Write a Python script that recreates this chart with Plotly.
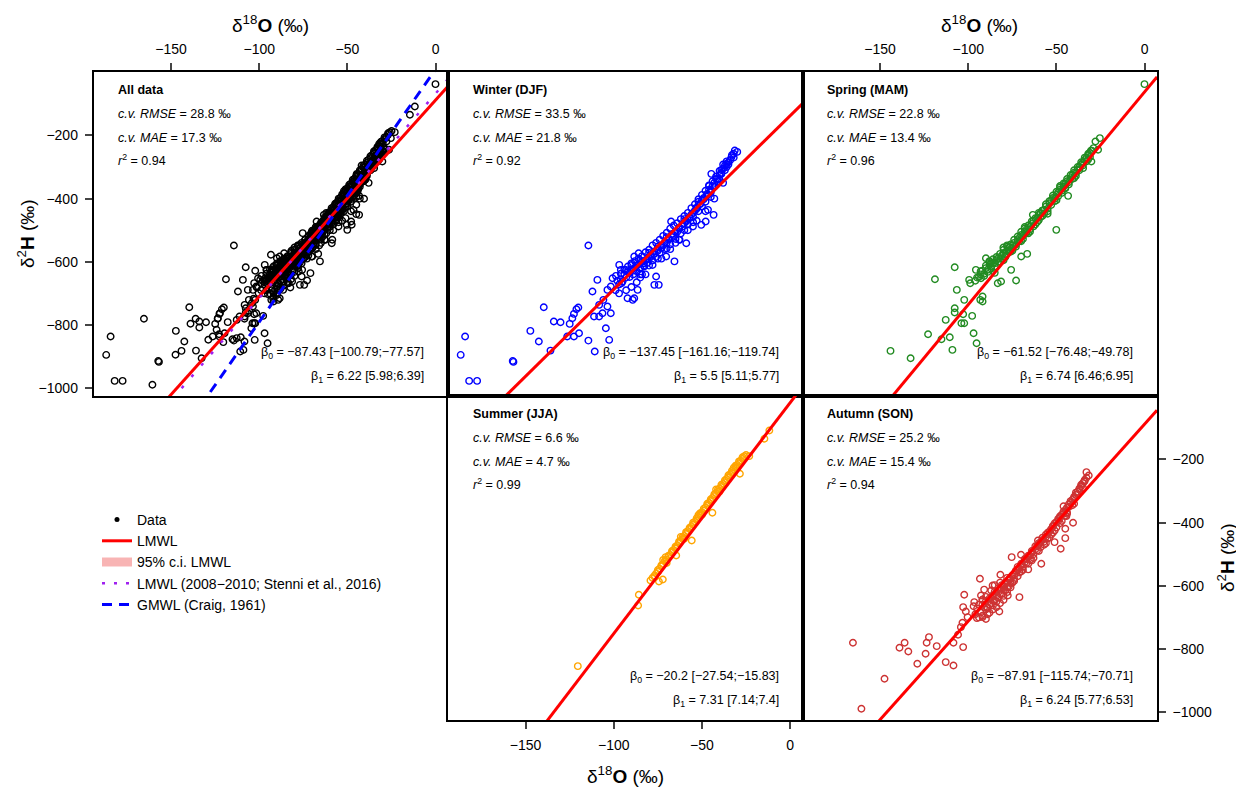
import plotly.graph_objects as go
import numpy as np

# ---------------- data ----------------
winter_d18O = [-184.3,-186.8,-182.0,-177.5,-157.3,-156.9,-147.3,-142.5,-139.7,-135.9,-134.0,-130.2,-126.4,-125.0,-122.6,-123.5,-122.6,-121.2,-120.1,-119.7,-114.4,-114.4,-112.1,-110.8,-111.2,-108.3,-109.3,-108.3,-106.4,-104.5,-102.6,-101.7,-103.6,-105.9,-103.6,-101.7,-100.7,-98.8,-96.9,-96.0,-95.6,-93.1,-92.2,-89.3,-88.4,-86.5,-88.4,-85.9,-82.7,-77.0,-74.5,-76.0,-70.3,-65.6,-67.5,-62.7,-58.9,-55.1,-50.4,-47.9,-46.6,-43.4,-44.7,-33.3,-32.0,-31.4,-36.2,-39.0,
               -96,-94,-92,-91,-90,-89,-88,-87,-86,-85,-84,-83,-82,-81,-80,-79,-78,-77,-76,-75,-74,-73,-72,-71,-70,-69,-68,-67,-66,-65,-64,-63,-62,-61,-60,-59,-58,-57,-56,-55,-54,-53,-52,-51,-50,-49,-48,-47,-46,-45,-44,-43,-42,-41,-40,-39,-38,-37,-36,-35,-34,
               -85,-80,-75,-70,-65,-60,-55,-50,-45,-40,-90,-85,-80,-75,-70,-60,-52,-46,
               -99,-98,-97,-96,-95,-94,-93,-92,-91,-90,-89,-88,-87,-86,-85,-84,-83,-82,-81,-80,-79,-78,-77,-76,-75,-74,-73,-72,-71,-70,-69,-68,-67,-66,-65,-64,-63,-62,-61,-60,-59,-58,-57,-56,-55,-54,-53,-52,-51,-50,-49,-48,-47,-46,-45,-44,-43,-42,-41,-40,-39,-38,-37,-36,-35,-33,-32,-30,
               -84,-78,-73,-68,-63,-58,-53,-48,-43,-38,-97,-93,-90,-87,-85,-82]
winter_d2H = [-836.8,-894.9,-977.2,-977.2,-913.9,-917.0,-818.8,-852.6,-743.9,-881.2,-789.3,-791.4,-836.8,-796.7,-836.8,-778.7,-765.0,-750.2,-744.9,-826.2,-548.5,-849.5,-694.2,-884.3,-773.4,-773.4,-657.3,-736.5,-762.9,-810.4,-847.4,-762.9,-741.8,-720.6,-689.0,-678.4,-652.0,-644.6,-609.8,-625.6,-667.8,-625.6,-715.4,-720.6,-715.4,-689.0,-583.4,-572.8,-615.0,-673.1,-673.1,-646.7,-583.4,-598.8,-472.5,-530.6,-541.1,-488.3,-483.0,-472.5,-435.5,-451.4,-321.5,-268.7,-258.1,-247.6,-289.8,-308.8,
              -655,-640,-632,-648,-625,-640,-618,-630,-608,-622,-600,-612,-595,-604,-590,-582,-596,-575,-585,-565,-572,-556,-548,-560,-540,-530,-545,-522,-515,-528,-505,-495,-510,-488,-478,-470,-482,-462,-450,-458,-438,-428,-440,-418,-405,-398,-410,-385,-372,-380,-360,-350,-338,-345,-325,-318,-305,-295,-300,-285,-278,
              -640,-612,-590,-558,-540,-500,-475,-425,-395,-340,-610,-595,-572,-552,-522,-465,-410,-360,
              -690,-660,-672,-638,-662,-625,-650,-615,-635,-605,-628,-598,-612,-590,-618,-582,-605,-570,-592,-562,-578,-548,-568,-540,-560,-530,-548,-518,-538,-508,-526,-495,-512,-485,-505,-478,-492,-465,-480,-455,-472,-445,-458,-430,-445,-418,-432,-402,-415,-388,-402,-375,-390,-358,-372,-345,-362,-330,-338,-312,-322,-292,-310,-282,-292,-262,-270,-252,
              -640,-610,-590,-560,-530,-500,-470,-440,-400,-350,-700,-690,-680,-665,-650,-640]

spring_d18O = [-0.1,-144.1,-132.7,-122.8,-118.9,-115.2,-112.8,-110.5,-109.0,-107.7,-107.7,-107.7,-106.5,-103.9,-102.3,-102.9,-102.3,-97.8,-97.0,-95.3,-99.5,-98.9,-95.7,-93.2,-91.9,-91.9,-92.8,-90.0,-87.1,-83.3,-81.4,-72.9,-80.1,-75.7,-70.0,-66.6,-63.4,-50.1,-43.4,-34.9,-32.1,-30.5,-27.9,-25.4,-26.4,-30.2,
               -95,-93,-92,-91,-90,-89,-88,-87,-86,-85,-84,-83,-82,-81,-80,-79,-78,-77,-76,-75,-74,-73,-72,-71,-70,-69,-68,-67,-66,-65,-64,-63,-62,-61,-60,-59,-58,-57,-56,-55,-54,-53,-52,-51,-50,-49,-48,-47,-46,-45,-44,-43,-42,-41,-40,-39,-38,-37,-36,-35,-34,-33,-32,-31,
               -85,-80,-75,-70,-65,-60,-55,-50,-45,-40,-88,-78,-68,-58,-48,
               -96,-94,-93,-91,-90,-89,-88,-87,-86,-85,-84,-83,-82,-81,-80,-79,-78,-77,-76,-75,-74,-73,-72,-71,-70,-69,-68,-67,-66,-65,-64,-63,-62,-61,-60,-59,-58,-57,-56,-55,-54,-53,-52,-51,-50,-49,-48,-47,-46,-45,-44,-43,-42,-41,-40,-39,-38,-37,-36,-35,-34,-33,-32,-31,-30,-29]
spring_d2H = [-37.4,-882.2,-905.4,-829.4,-655.2,-845.2,-784.0,-838.9,-879.0,-617.1,-747.0,-760.7,-689.0,-794.6,-794.6,-766.1,-720.6,-771.3,-826.2,-857.9,-657.3,-667.8,-625.6,-720.6,-710.1,-725.9,-652.0,-588.6,-604.5,-667.8,-662.5,-659.4,-554.8,-625.6,-583.4,-575.0,-451.4,-498.9,-391.2,-303.5,-277.1,-248.6,-219.0,-208.5,-245.4,-282.4,
              -650,-640,-628,-645,-620,-632,-610,-622,-605,-615,-595,-588,-600,-580,-572,-585,-565,-555,-568,-548,-540,-552,-532,-524,-515,-528,-505,-498,-510,-488,-480,-470,-482,-462,-452,-445,-455,-435,-425,-432,-415,-405,-398,-408,-388,-380,-372,-382,-362,-352,-345,-355,-335,-325,-318,-328,-308,-300,-292,-285,-278,-270,-262,-255,
              -635,-595,-565,-535,-505,-468,-448,-405,-368,-335,-598,-548,-490,-438,-360,
              -660,-648,-630,-638,-612,-625,-600,-615,-592,-605,-585,-600,-575,-590,-562,-575,-552,-568,-545,-558,-530,-545,-520,-535,-505,-518,-495,-508,-485,-498,-472,-488,-462,-475,-445,-458,-438,-448,-418,-440,-408,-420,-390,-400,-378,-392,-365,-375,-352,-365,-338,-348,-325,-338,-310,-320,-300,-310,-285,-295,-270,-282,-258,-268,-248,-240]

summer_d18O = [-120.4,-86.2,-85.8,-79.2,-76.7,-74.4,-72.2,-70.6,-64.6,-55.8,-44.1,-28.5,-23.2,-14.6,-11.8,
               -78,-76,-75,-74,-73,-72,-71,-70,-69,-68,-67,-66,-65,-64,-63,-62,-61,-60,-59,-58,-57,-56,-55,-54,-53,-52,-51,-50,-49,-48,-47,-46,-45,-44,-43,-42,-41,-40,-39,-38,-37,-36,-35,-34,-33,-32,-31,-30,-29,-28,-27,
               -70,-65,-60,-55,-50,-45,-40,-35,-30,-72,-62,-52,-42,-32,
               -77,-75,-73,-71,-69,-67,-65,-63,-61,-59,-57,-55,-53,-51,-49,-47,-45,-43,-41,-39,-37,-35,-33,-31,-29,-27,-26,-25]
summer_d2H = [-854.4,-662.3,-628.5,-583.1,-572.6,-586.3,-580.0,-509.3,-504.0,-456.5,-368.9,-245.4,-189.5,-134.6,-108.2,
              -575,-561,-550,-546,-538,-532,-523,-517,-507,-502,-490,-487,-476,-472,-460,-457,-446,-442,-430,-427,-416,-412,-400,-397,-386,-382,-370,-367,-356,-352,-340,-337,-326,-322,-310,-307,-296,-292,-280,-277,-266,-262,-250,-247,-236,-232,-220,-217,-206,-204,-193,
              -528,-482,-451,-407,-375,-332,-301,-257,-225,-518,-445,-376,-295,-226,
              -568,-556,-535,-520,-505,-495,-480,-465,-452,-436,-420,-406,-392,-376,-362,-346,-331,-316,-302,-287,-272,-256,-242,-226,-212,-198,-190,-186]

autumn_d18O = [-165.4,-147.5,-160.6,-139.0,-136.1,-134.0,-128.9,-124.2,-123.6,-122.3,-117.9,-112.8,-108.4,-108.4,-105.8,-104.2,-102.9,-103.3,-102.3,-102.9,-101.4,-100.4,-96.6,-95.1,-93.4,-92.8,-91.9,-91.9,-89.6,-86.2,-82.4,-81.8,-77.6,-71.0,-75.4,-70.1,-58.6,-60.5,-51.1,-47.6,-45.0,-45.0,-40.6,-44.4,-33.0,-31.7,-34.3,
               -92,-90,-89,-88,-87,-86,-85,-84,-83,-82,-81,-80,-79,-78,-77,-76,-75,-74,-73,-72,-71,-70,-69,-68,-67,-66,-65,-64,-63,-62,-61,-60,-59,-58,-57,-56,-55,-54,-53,-52,-51,-50,-49,-48,-47,-46,-45,-44,-43,-42,-41,-40,-39,-38,-37,-36,-35,-34,
               -90,-86,-84,-80,-78,-76,-82,-87,-74,-70,-66,-72,-64,-60,-56,-52,-48,-44,-40,-46,
               -96,-95,-94,-93,-92,-91,-90,-89,-88,-87,-86,-85,-84,-83,-82,-81,-80,-79,-78,-77,-76,-75,-74,-73,-72,-71,-70,-69,-68,-67,-66,-65,-64,-63,-62,-61,-60,-59,-58,-57,-56,-55,-54,-53,-52,-51,-50,-49,-48,-47,-46,-45,-44,-43,-42,-41,-40,-39,-38,-37,-36,-35,-34,-33,
               -94,-92,-90,-88,-86,-84,-82,-80,-97,-91,-85,-78]
autumn_d2H = [-780.5,-894.5,-989.5,-796.3,-780.5,-808.0,-847.0,-815.3,-780.5,-762.6,-791.1,-841.7,-852.3,-780.5,-755.2,-730.9,-794.2,-717.2,-628.5,-667.6,-681.3,-699.2,-651.7,-702.4,-577.9,-630.6,-643.3,-699.2,-667.6,-599.0,-681.3,-565.2,-630.6,-636.0,-509.3,-501.9,-530.4,-456.5,-461.8,-482.9,-449.1,-419.6,-400.6,-379.5,-240.1,-250.7,-269.7,
              -660,-648,-670,-640,-655,-630,-645,-620,-638,-612,-625,-600,-615,-590,-602,-578,-590,-565,-552,-570,-545,-535,-550,-525,-515,-530,-505,-495,-512,-485,-475,-490,-462,-455,-470,-445,-432,-448,-420,-410,-425,-398,-388,-402,-375,-365,-378,-352,-342,-332,-345,-322,-312,-302,-295,-285,-275,-268,
              -675,-662,-650,-632,-620,-605,-590,-615,-585,-555,-548,-540,-520,-470,-465,-432,-380,-372,-340,-348,
              -690,-672,-660,-685,-645,-668,-635,-690,-660,-638,-648,-618,-632,-608,-625,-598,-612,-590,-605,-580,-592,-568,-578,-560,-548,-558,-530,-540,-515,-528,-505,-518,-490,-500,-475,-488,-465,-478,-448,-460,-438,-450,-428,-438,-412,-402,-415,-395,-385,-395,-372,-360,-368,-350,-338,-328,-318,-305,-310,-292,-280,-290,-265,-258,
              -700,-695,-705,-685,-675,-668,-655,-645,-665,-612,-598,-575]

panel_names = ["All data", "Winter (DJF)", "Spring (MAM)", "Summer (JJA)", "Autumn (SON)"]
cv_rmse = [28.8, 33.5, 22.8, 6.6, 25.2]
cv_mae = [17.3, 21.8, 13.4, 4.7, 15.4]
r2 = [0.94, 0.92, 0.96, 0.99, 0.94]
beta0 = ["−87.43 [−100.79;−77.57]", "−137.45 [−161.16;−119.74]", "−61.52 [−76.48;−49.78]",
         "−20.2 [−27.54;−15.83]", "−87.91 [−115.74;−70.71]"]
beta1 = ["6.22 [5.98;6.39]", "5.5 [5.11;5.77]", "6.74 [6.46;6.95]", "7.31 [7.14;7.4]", "6.24 [5.77;6.53]"]
lmwl_intercept = [-87.43, -137.45, -61.52, -20.2, -87.91]
lmwl_slope = [6.22, 5.5, 6.74, 7.31, 6.24]
stenni_intercept, stenni_slope = -67.0, 6.48
gmwl_intercept, gmwl_slope = 10.0, 8.0

x_ticks = [-150, -100, -50, 0]
y_ticks = [-1000, -800, -600, -400, -200]
x_range = [-194, 7]
y_range = [-1025, 1]

# ---------------- figure ----------------
all_d18O = winter_d18O + spring_d18O + summer_d18O + autumn_d18O
all_d2H = winter_d2H + spring_d2H + summer_d2H + autumn_d2H
series = [(all_d18O, all_d2H, "black"), (winter_d18O, winter_d2H, "#0000FF"),
          (spring_d18O, spring_d2H, "#228B22"), (summer_d18O, summer_d2H, "#FFA500"),
          (autumn_d18O, autumn_d2H, "#CD3333")]

OFF = 8  # page body margin
W, H = 1244 - OFF, 792 - OFF
px_left = [93.5, 448, 802.5, 448, 802.5]
px_right = [448, 802.5, 1157, 802.5, 1157]
px_top = [72, 72, 72, 396, 396]
px_bot = [396, 396, 396, 720, 720]


def fx(px):
    return (px - OFF) / W


def fy(py):
    return 1 - (py - OFF) / H


FONT = "Liberation Sans, Arial, sans-serif"
fig = go.Figure()
xl = np.array(x_range, dtype=float)

for i, (xs, ys, col) in enumerate(series):
    ax = "" if i == 0 else str(i + 1)
    fig.add_trace(go.Scatter(x=xs, y=ys, mode="markers", xaxis="x" + ax, yaxis="y" + ax,
                             marker=dict(symbol="circle-open", size=6.5, color=col, line=dict(width=1.4, color=col)),
                             showlegend=False, hoverinfo="skip"))
    fig.add_trace(go.Scatter(x=xl, y=lmwl_intercept[i] + lmwl_slope[i] * xl, mode="lines",
                             xaxis="x" + ax, yaxis="y" + ax, line=dict(color="#FF0000", width=3),
                             showlegend=False, hoverinfo="skip"))
    if i == 0:
        fig.add_trace(go.Scatter(x=xl, y=stenni_intercept + stenni_slope * xl, mode="lines",
                                 line=dict(color="#A020F0", width=2.5, dash="3px,12px"),
                                 showlegend=False, hoverinfo="skip"))
        fig.add_trace(go.Scatter(x=xl, y=gmwl_intercept + gmwl_slope * xl, mode="lines",
                                 line=dict(color="#0000FF", width=3, dash="10px,7px"),
                                 showlegend=False, hoverinfo="skip"))

# legend entries
leg = dict(x=[None], y=[None], xaxis="x", yaxis="y", hoverinfo="skip")
fig.add_trace(go.Scatter(**leg, mode="markers", name="Data", marker=dict(color="black", size=5)))
fig.add_trace(go.Scatter(**leg, mode="lines", name="LMWL", line=dict(color="#FF0000", width=3)))
fig.add_trace(go.Scatter(**leg, mode="lines", name="95% c.i. LMWL", line=dict(color="#F8B4B4", width=9)))
fig.add_trace(go.Scatter(**leg, mode="lines", name="LMWL (2008−2010; Stenni et al., 2016)",
                         line=dict(color="#A020F0", width=2.5, dash="3px,9px")))
fig.add_trace(go.Scatter(**leg, mode="lines", name="GMWL (Craig, 1961)",
                         line=dict(color="#0000FF", width=3, dash="10px,7px")))

layout = dict(width=W, height=H, margin=dict(l=0, r=0, t=0, b=0), paper_bgcolor="white",
              plot_bgcolor="white", font=dict(family=FONT, size=14, color="black"),
              showlegend=True,
              legend=dict(x=fx(97), y=fy(504), xanchor="left", yanchor="top",
                          font=dict(size=14, family=FONT), bgcolor="rgba(0,0,0,0)", tracegroupgap=0))
annotations = []
for i in range(5):
    ax = "" if i == 0 else str(i + 1)
    xa = dict(domain=[fx(px_left[i]), fx(px_right[i])], range=x_range, showline=True, mirror=True,
              linecolor="black", linewidth=1.5, showgrid=False, zeroline=False, ticks="",
              showticklabels=False, anchor="y" + ax, tickvals=x_ticks, tickfont=dict(size=14))
    ya = dict(domain=[fy(px_bot[i]), fy(px_top[i])], range=y_range, showline=True, mirror=True,
              linecolor="black", linewidth=1.5, showgrid=False, zeroline=False, ticks="",
              showticklabels=False, anchor="x" + ax, tickvals=y_ticks, tickfont=dict(size=14))
    tick_on = dict(ticks="outside", ticklen=7, tickwidth=1.5, showticklabels=True, ticklabelstandoff=4)
    if i in (0, 2):
        xa.update(side="top", **tick_on)
    if i == 3:
        xa.update(side="bottom", **tick_on)
    if i == 0:
        ya.update(side="left", **tick_on)
    if i == 4:
        ya.update(side="right", **tick_on)
    layout["xaxis" + ax] = xa
    layout["yaxis" + ax] = ya

    ph = px_bot[i] - px_top[i]
    pw = px_right[i] - px_left[i]

    def yfr(py):
        return 1 - (py - px_top[i]) / ph

    base = dict(xref="x" + ax + " domain", yref="y" + ax + " domain", showarrow=False,
                font=dict(size=12.5, family=FONT, color="black"), yanchor="middle")
    lx = 22.5 / pw
    rx = 1 - 22 / pw
    annotations.append(dict(base, x=lx, y=yfr(px_top[i] + 17.5), xanchor="left", text="<b>%s</b>" % panel_names[i]))
    annotations.append(dict(base, x=lx, y=yfr(px_top[i] + 42), xanchor="left",
                            text="<i>c.v. RMSE</i> = %s ‰" % cv_rmse[i]))
    annotations.append(dict(base, x=lx, y=yfr(px_top[i] + 66), xanchor="left",
                            text="<i>c.v. MAE</i> = %s ‰" % cv_mae[i]))
    annotations.append(dict(base, x=lx, y=yfr(px_top[i] + 88), xanchor="left",
                            text="<i>r</i><sup>2</sup> = %s" % r2[i]))
    annotations.append(dict(base, x=rx, y=yfr(px_top[i] + 281), xanchor="right",
                            text="β<sub>0</sub> = %s" % beta0[i]))
    annotations.append(dict(base, x=rx, y=yfr(px_top[i] + 305), xanchor="right",
                            text="β<sub>1</sub> = %s" % beta1[i]))

xt = "δ<sup>18</sup><b>O</b> (‰)"
yt = "δ<sup>2</sup><b>H</b> (‰)"
tf = dict(size=19, family=FONT, color="black")
tb = dict(xref="paper", yref="paper", showarrow=False, font=tf, xanchor="center", yanchor="middle")
annotations += [
    dict(tb, x=fx((93.5 + 448) / 2), y=fy(10), yanchor="top", text=xt),
    dict(tb, x=fx((802.5 + 1157) / 2), y=fy(10), yanchor="top", text=xt),
    dict(tb, x=fx((448 + 802.5) / 2), y=fy(775), text=xt),
    dict(tb, x=fx(26), y=fy(234), text=yt, textangle=-90),
    dict(tb, x=fx(1226), y=fy(558), text=yt, textangle=-90),
]
layout["annotations"] = annotations
fig.update_layout(**layout)
fig.write_html("out.html")
